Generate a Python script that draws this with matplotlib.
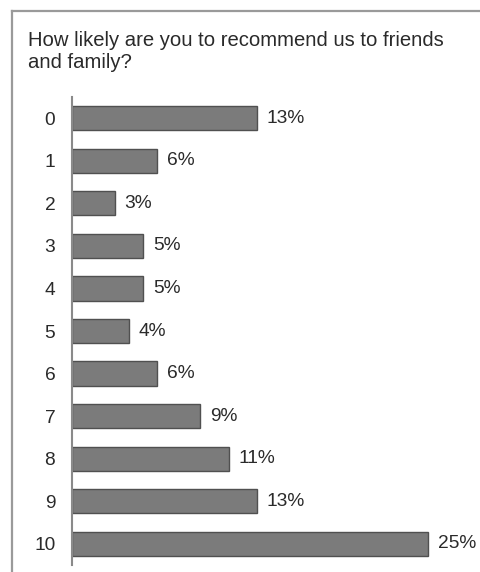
import matplotlib
matplotlib.use("Agg")
import matplotlib.pyplot as plt
from matplotlib.lines import Line2D

categories = ["0", "1", "2", "3", "4", "5", "6", "7", "8", "9", "10"]
values = [13, 6, 3, 5, 5, 4, 6, 9, 11, 13, 25]
title_lines = ["How likely are you to recommend us to friends", "and family?"]

plt.rcParams['font.family'] = ['Liberation Sans', 'DejaVu Sans']

W, H = 481, 572
fig = plt.figure(figsize=(W / 100, H / 100), dpi=100)
fig.patch.set_facecolor("white")

# outer border (left and top edges visible)
fig.add_artist(Line2D([12 / W, 12 / W], [0, 1 - 11 / H], color="#9a9a9a", lw=1.6))
fig.add_artist(Line2D([12 / W, 1], [1 - 11 / H, 1 - 11 / H], color="#9a9a9a", lw=1.6))

for i, line in enumerate(title_lines):
    fig.text(28 / W, 1 - (46.5 + 21 * i) / H, line, ha="left", va="baseline",
             fontsize=14.6, color="#2a2a2a")

px_per = 14.24
xmax = 28
left = 72 / W
bottom = 7 / H
height = (565 - 97) / H
width = xmax * px_per / W
ax = fig.add_axes([left, bottom, width, height])

y = list(range(len(categories)))
ax.barh(y, values, height=0.57, color="#7b7b7b", edgecolor="#505050", linewidth=1)
for yi, v in zip(y, values):
    ax.annotate(f"{v}%", (v, yi), xytext=(7, 0), textcoords="offset points",
                ha="left", va="center", fontsize=13.8, color="#2a2a2a")

ax.set_xlim(0, xmax)
ax.set_ylim(len(categories) - 0.5, -0.5)
ax.set_yticks(y)
ax.set_yticklabels(categories, fontsize=13.8, color="#2a2a2a")
ax.tick_params(axis="y", length=0, pad=12)
ax.set_xticks([])
for s in ["top", "right", "bottom"]:
    ax.spines[s].set_visible(False)
ax.spines["left"].set_color("#8a8a8a")
ax.spines["left"].set_linewidth(1.5)
ax.patch.set_alpha(0)

fig.savefig("out.png", dpi=100)
